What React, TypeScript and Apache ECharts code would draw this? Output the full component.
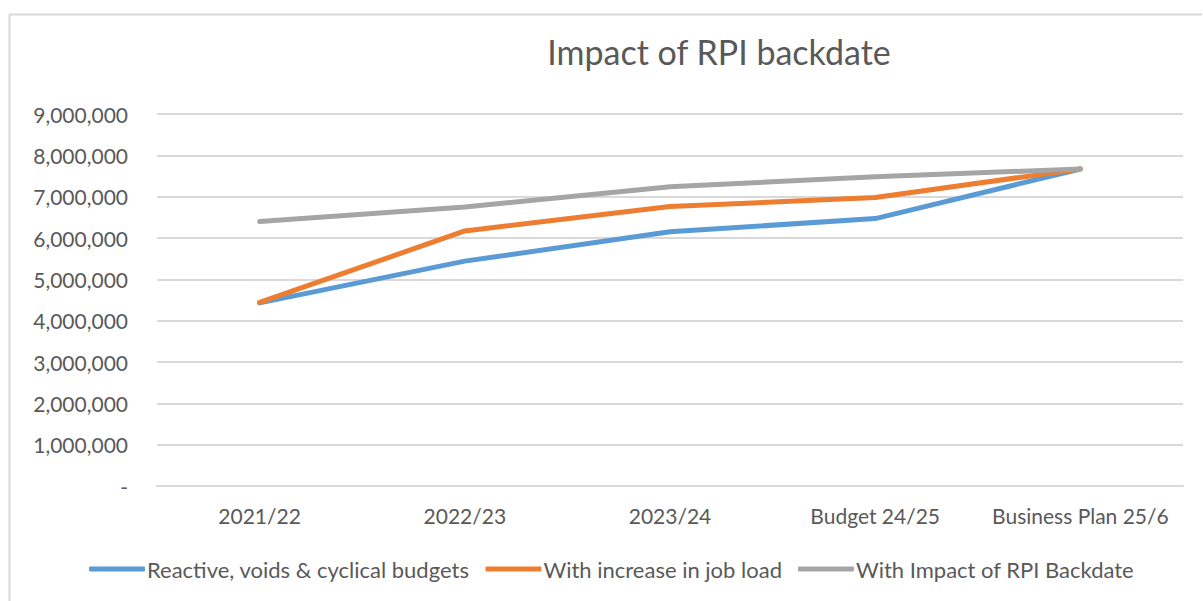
import React, { useEffect, useRef } from "react";
import * as echarts from "echarts";

const categories = ["2021/22", "2022/23", "2023/24", "Budget 24/25", "Business Plan 25/6"];
const reactive = [4430000, 5440000, 6150000, 6470000, 7670000];
const jobLoad = [4440000, 6170000, 6760000, 6980000, 7670000];
const rpiBackdate = [6400000, 6750000, 7240000, 7480000, 7670000];
const seriesNames = [
  "Reactive, voids & cyclical budgets",
  "With increase in job load",
  "With Impact of RPI Backdate",
];
const colors = ["#5b9bd5", "#ed7d31", "#a5a5a5"];

const FONT = "Lato, 'Noto Sans', sans-serif";

export default function App() {
  const ref = useRef<HTMLDivElement>(null);
  useEffect(() => {
    if (!ref.current) return;
    const chart = echarts.init(ref.current, undefined, { renderer: "svg" });
    const mk = (name: string, data: number[], color: string) => ({
      name,
      type: "line",
      data,
      symbol: "none",
      lineStyle: { color, width: 5, cap: "round", join: "round" },
      itemStyle: { color },
      z: 3,
    });
    chart.setOption({
      animation: false,
      textStyle: { fontFamily: FONT },
      title: {
        text: "Impact of RPI backdate",
        left: 714,
        top: 29,
        textAlign: "center",
        textStyle: { fontFamily: FONT, fontSize: 34, fontWeight: "normal", color: "#595959" },
      },
      grid: { left: 157, right: 20, top: 114, bottom: 115, containLabel: false },
      xAxis: {
        type: "category",
        data: categories,
        boundaryGap: true,
        axisLine: { show: true, lineStyle: { color: "#d9d9d9", width: 2 } },
        axisTick: { show: false },
        axisLabel: { fontFamily: FONT, fontSize: 21, color: "#595959", margin: 19, interval: 0 },
      },
      yAxis: {
        type: "value",
        min: 0,
        max: 9000000,
        interval: 1000000,
        axisLine: { show: false },
        axisTick: { show: false },
        splitLine: { lineStyle: { color: "#d9d9d9", width: 2 } },
        axisLabel: {
          fontFamily: FONT,
          fontSize: 21,
          color: "#595959",
          margin: 29,
          formatter: (v: number) => (v === 0 ? "-" : v.toLocaleString("en-US")),
        },
      },
      legend: {
        data: seriesNames,
        left: 84,
        top: 553,
        icon: "roundRect",
        itemWidth: 56,
        itemHeight: 5,
        itemGap: 16,
        textStyle: { fontFamily: FONT, fontSize: 22, color: "#595959", padding: [0, 0, 0, -3] },
      },
      graphic: [
        { type: "line", shape: { x1: 9.5, y1: 14.5, x2: 9.5, y2: 601 }, style: { stroke: "#d9d9d9", lineWidth: 2 } },
        { type: "line", shape: { x1: 9, y1: 14.5, x2: 1202, y2: 14.5 }, style: { stroke: "#d9d9d9", lineWidth: 2 } },
      ],
      series: [
        mk(seriesNames[0], reactive, colors[0]),
        mk(seriesNames[1], jobLoad, colors[1]),
        mk(seriesNames[2], rpiBackdate, colors[2]),
      ],
    });
    return () => chart.dispose();
  }, []);
  return (
    <div
      ref={ref}
      style={{ position: "fixed", left: 0, top: 0, width: 1203, height: 601, background: "#ffffff" }}
    />
  );
}
